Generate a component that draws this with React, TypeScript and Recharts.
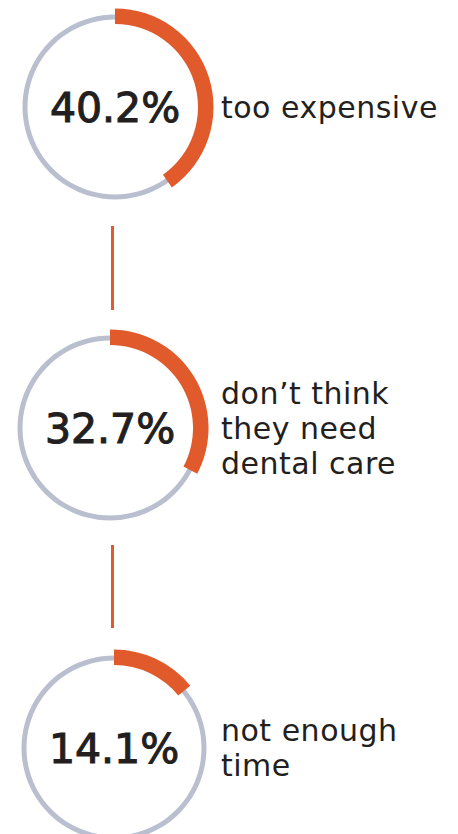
import { PieChart, Pie, Cell, Label } from "recharts";

const categories = ["too expensive", "don’t think they need dental care", "not enough time"];
const labelLines = [["too expensive"], ["don’t think", "they need", "dental care"], ["not enough", "time"]];
const shares = [40.2, 32.7, 14.1];

const ORANGE = "#e05a2b";
const GRAY = "#babfcf";
const INK = "#231f20";

const centers = [
  { x: 115, y: 107 },
  { x: 110, y: 428 },
  { x: 114, y: 748 },
];

const connectors = [
  { top: 226, bottom: 310 },
  { top: 545, bottom: 628 },
];

const SIZE = 210;

const App = () => {
  return (
    <div style={{ position: "absolute", left: 0, top: 0, width: 458, height: 834, background: "#fff", overflow: "hidden" }}>
      {shares.map((share, i) => (
        <div
          key={`ring-${i}`}
          style={{ position: "absolute", left: centers[i].x - SIZE / 2, top: centers[i].y - SIZE / 2 }}
        >
          <PieChart width={SIZE} height={SIZE} margin={{ top: 0, right: 0, bottom: 0, left: 0 }}>
            <Pie
              data={[{ name: categories[i], value: 100 }]}
              dataKey="value"
              cx="50%"
              cy="50%"
              innerRadius={87.5}
              outerRadius={92.5}
              startAngle={90}
              endAngle={-270}
              stroke="none"
              fill={GRAY}
              isAnimationActive={false}
            />
            <Pie
              data={[
                { name: categories[i], value: share },
                { name: "rest", value: 100 - share },
              ]}
              dataKey="value"
              cx="50%"
              cy="50%"
              innerRadius={83}
              outerRadius={98.5}
              startAngle={90}
              endAngle={-270}
              stroke="none"
              isAnimationActive={false}
            >
              <Cell fill={ORANGE} />
              <Cell fill="transparent" />
              <Label
                value={`${share}%`}
                position="center"
                fill={INK}
                stroke={INK}
                strokeWidth={1.1}
                fontSize={41}
                fontFamily="DejaVu Sans"
              />
            </Pie>
          </PieChart>
        </div>
      ))}

      {connectors.map((c, i) => (
        <div
          key={`line-${i}`}
          style={{ position: "absolute", left: 111, top: c.top, width: 3, height: c.bottom - c.top, background: ORANGE }}
        />
      ))}

      {labelLines.map((lines, i) => (
        <div
          key={`txt-${i}`}
          style={{
            position: "absolute",
            left: 221,
            top: centers[i].y - (lines.length * 35) / 2,
            fontFamily: "DejaVu Sans",
            fontSize: 30,
            letterSpacing: 0.5,
            lineHeight: "35px",
            color: INK,
            whiteSpace: "nowrap",
          }}
        >
          {lines.map((l) => (
            <div key={l}>{l}</div>
          ))}
        </div>
      ))}
    </div>
  );
};

export default App;
